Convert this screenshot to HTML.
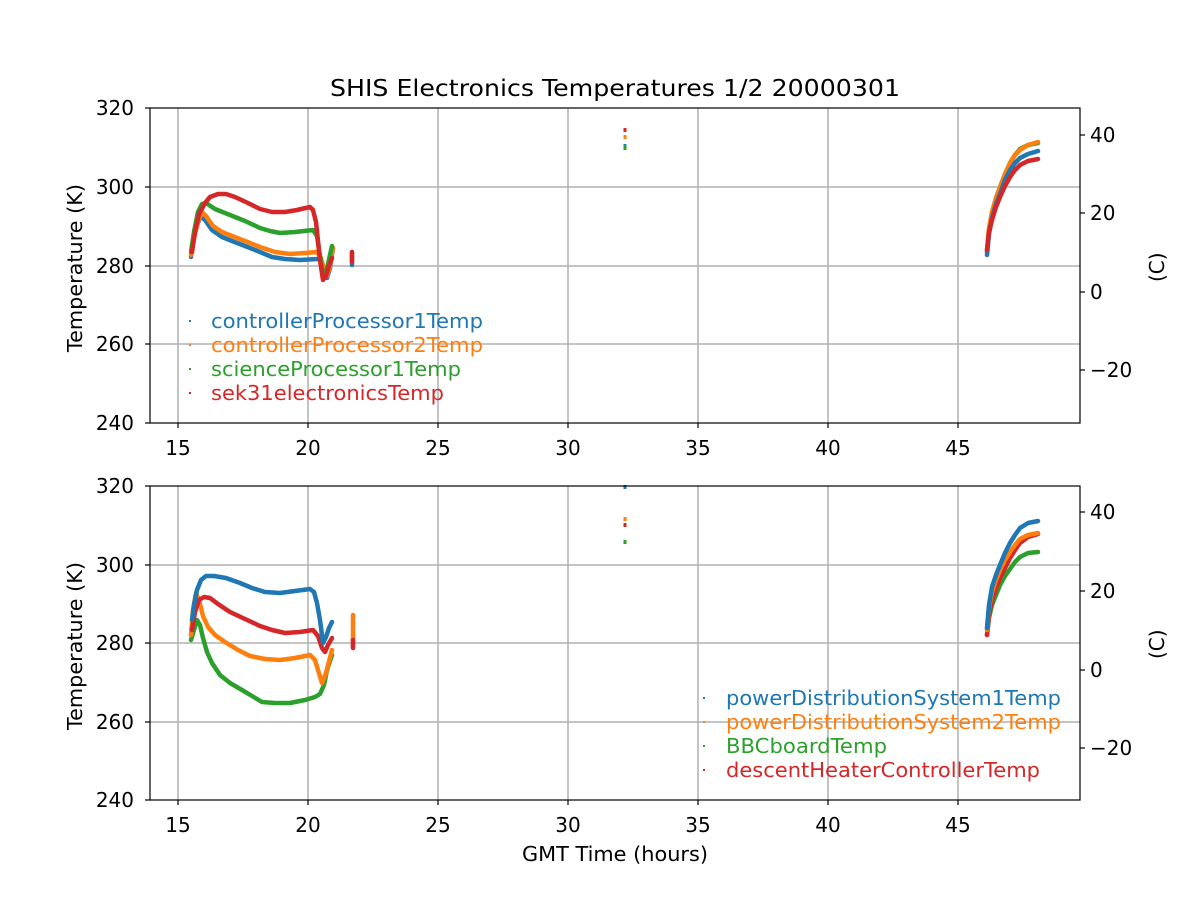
<!DOCTYPE html>
<html><head><meta charset="utf-8"><style>body{margin:0;background:#fff}svg{display:block;font-family:"DejaVu Sans","Liberation Sans",sans-serif}</style></head><body>
<svg width="1200" height="900" viewBox="0 0 1200 900">
<g stroke="#b0b0b0" stroke-width="1.5">
<line x1="178" y1="108" x2="178" y2="423"/><line x1="308" y1="108" x2="308" y2="423"/><line x1="438" y1="108" x2="438" y2="423"/><line x1="568" y1="108" x2="568" y2="423"/><line x1="698" y1="108" x2="698" y2="423"/><line x1="828" y1="108" x2="828" y2="423"/><line x1="958" y1="108" x2="958" y2="423"/>
<line x1="150" y1="187" x2="1080" y2="187"/><line x1="150" y1="266" x2="1080" y2="266"/><line x1="150" y1="344" x2="1080" y2="344"/>
<line x1="178" y1="486" x2="178" y2="800"/><line x1="308" y1="486" x2="308" y2="800"/><line x1="438" y1="486" x2="438" y2="800"/><line x1="568" y1="486" x2="568" y2="800"/><line x1="698" y1="486" x2="698" y2="800"/><line x1="828" y1="486" x2="828" y2="800"/><line x1="958" y1="486" x2="958" y2="800"/>
<line x1="150" y1="565" x2="1080" y2="565"/><line x1="150" y1="643" x2="1080" y2="643"/><line x1="150" y1="722" x2="1080" y2="722"/>
</g>
<g fill="none" stroke-width="4.5" stroke-linejoin="round" stroke-linecap="round">
<!-- top -->
<polyline stroke="#1f77b4" points="191,257 193,240 197,225 201,216 205,220 212,230 222,237 232,241 245,246 260,252 272,257 285,259 300,260 318,259 322,262 325,276 327,278 330,268 333,248"/>
<polyline stroke="#ff7f0e" points="191,255 194,238 198,222 202,212 206,216 213,226 222,232 232,236 245,241 260,247 275,252 290,254 305,253 317,252 321,258 325,274 327,276 330,266 333,248"/>
<polyline stroke="#2ca02c" points="191,252 194,232 198,212 202,204 206,203 215,209 230,215 245,221 260,228 270,231 280,233 295,232 313,230 317,236 322,270 325,276 328,264 332,246"/>
<polyline stroke="#d62728" points="192,252 195,232 199,214 205,203 210,197 218,194 226,194 235,197 248,203 260,209 272,212 285,212 297,210 310,207 313,210 316,222 320,260 323,280 326,276 329,266 332,258"/>
<line stroke="#1f77b4" x1="352" y1="252" x2="352" y2="265"/><line stroke="#d62728" x1="352" y1="252" x2="352" y2="262"/>
<polyline stroke="#2ca02c" points="987,252 989,230 992,213 996,198 1000,187 1005,174 1010,163 1015,155 1020,149 1028,145 1038,143"/>
<polyline stroke="#ff7f0e" points="987,250 989,228 992,212 996,198 1000,187 1005,174 1010,163 1015,155 1020,150 1028,145 1038,142"/>
<polyline stroke="#1f77b4" points="987,255 989,234 992,218 996,204 1000,194 1005,180 1010,170 1015,163 1020,158 1028,154 1038,151"/>
<polyline stroke="#d62728" points="987,250 989,232 992,220 996,207 1000,197 1005,186 1010,177 1015,170 1020,165 1028,161 1038,159"/>
<!-- bottom -->
<polyline stroke="#2ca02c" points="191,640 194,630 197,620 200,625 203,638 207,652 212,663 220,675 230,683 242,690 252,696 262,702 275,703 290,703 305,700 315,697 320,694 324,685 327,670 332,655"/>
<polyline stroke="#ff7f0e" points="191,635 193,610 196,593 199,600 203,616 208,627 215,635 225,642 238,650 250,656 265,659 280,660 295,658 310,655 315,660 318,670 322,683 326,673 332,650"/>
<polyline stroke="#d62728" points="192,630 195,612 199,600 204,597 210,598 218,604 230,612 245,619 260,626 272,630 285,633 300,632 313,630 318,636 322,648 325,652 328,645 332,638"/>
<polyline stroke="#1f77b4" points="192,620 194,605 197,590 201,580 206,576 214,576 226,578 240,583 252,588 265,592 280,593 295,591 310,589 314,592 317,603 320,620 323,643 326,637 329,628 332,622"/>
<line stroke="#ff7f0e" x1="353" y1="615" x2="353" y2="645"/><line stroke="#d62728" x1="353" y1="640" x2="353" y2="648"/>
<polyline stroke="#2ca02c" points="987,635 989,618 992,605 996,595 1000,585 1005,576 1010,569 1015,562 1020,557 1028,553 1038,552"/>
<polyline stroke="#d62728" points="987,635 989,615 992,600 996,588 1000,578 1005,568 1010,558 1015,550 1020,543 1028,537 1038,534"/>
<polyline stroke="#ff7f0e" points="987,630 989,608 992,592 996,580 1000,570 1005,560 1010,552 1015,545 1020,539 1028,535 1038,533"/>
<polyline stroke="#1f77b4" points="987,628 989,605 992,587 996,575 1000,565 1005,553 1010,543 1015,535 1020,528 1028,523 1038,521"/>
</g>
<g stroke-width="3">
<line stroke="#d62728" x1="625" y1="128" x2="625" y2="132"/><line stroke="#ff7f0e" x1="625" y1="135" x2="625" y2="139"/><line stroke="#1f77b4" x1="625" y1="144" x2="625" y2="148"/><line stroke="#2ca02c" x1="625" y1="145" x2="625" y2="150"/>
<line stroke="#1f77b4" x1="625" y1="485" x2="625" y2="489"/><line stroke="#ff7f0e" x1="625" y1="517" x2="625" y2="521"/><line stroke="#d62728" x1="625" y1="523" x2="625" y2="527"/><line stroke="#2ca02c" x1="625" y1="540" x2="625" y2="544"/>
</g>
<g fill="none" stroke="#000" stroke-width="1.2">
<rect x="150" y="108" width="930" height="315"/><rect x="150" y="486" width="930" height="314"/>
</g>
<g stroke="#000" stroke-width="1.2">
<line x1="178" y1="423" x2="178" y2="428"/><line x1="308" y1="423" x2="308" y2="428"/><line x1="438" y1="423" x2="438" y2="428"/><line x1="568" y1="423" x2="568" y2="428"/><line x1="698" y1="423" x2="698" y2="428"/><line x1="828" y1="423" x2="828" y2="428"/><line x1="958" y1="423" x2="958" y2="428"/>
<line x1="178" y1="800" x2="178" y2="805"/><line x1="308" y1="800" x2="308" y2="805"/><line x1="438" y1="800" x2="438" y2="805"/><line x1="568" y1="800" x2="568" y2="805"/><line x1="698" y1="800" x2="698" y2="805"/><line x1="828" y1="800" x2="828" y2="805"/><line x1="958" y1="800" x2="958" y2="805"/>
<line x1="145" y1="108" x2="150" y2="108"/><line x1="145" y1="187" x2="150" y2="187"/><line x1="145" y1="266" x2="150" y2="266"/><line x1="145" y1="344" x2="150" y2="344"/><line x1="145" y1="423" x2="150" y2="423"/>
<line x1="145" y1="486" x2="150" y2="486"/><line x1="145" y1="565" x2="150" y2="565"/><line x1="145" y1="643" x2="150" y2="643"/><line x1="145" y1="722" x2="150" y2="722"/><line x1="145" y1="800" x2="150" y2="800"/>
<line x1="1080" y1="135" x2="1085" y2="135"/><line x1="1080" y1="213" x2="1085" y2="213"/><line x1="1080" y1="292" x2="1085" y2="292"/><line x1="1080" y1="370" x2="1085" y2="370"/>
<line x1="1080" y1="512" x2="1085" y2="512"/><line x1="1080" y1="591" x2="1085" y2="591"/><line x1="1080" y1="670" x2="1085" y2="670"/><line x1="1080" y1="748" x2="1085" y2="748"/>
</g>
<g font-size="20" fill="#000">
<g text-anchor="middle">
<text x="178" y="455">15</text><text x="308" y="455">20</text><text x="438" y="455">25</text><text x="568" y="455">30</text><text x="698" y="455">35</text><text x="828" y="455">40</text><text x="958" y="455">45</text>
<text x="178" y="832">15</text><text x="308" y="832">20</text><text x="438" y="832">25</text><text x="568" y="832">30</text><text x="698" y="832">35</text><text x="828" y="832">40</text><text x="958" y="832">45</text>
</g>
<text x="522" y="861" textLength="186" lengthAdjust="spacingAndGlyphs">GMT Time (hours)</text>
<text x="330" y="96" font-size="23" textLength="570" lengthAdjust="spacingAndGlyphs">SHIS Electronics Temperatures 1/2 20000301</text>
<g text-anchor="end">
<text x="134" y="115">320</text><text x="134" y="194">300</text><text x="134" y="273">280</text><text x="134" y="351">260</text><text x="134" y="430">240</text>
<text x="134" y="493">320</text><text x="134" y="572">300</text><text x="134" y="650">280</text><text x="134" y="729">260</text><text x="134" y="807">240</text>
</g>
<text x="1090" y="142">40</text><text x="1090" y="220">20</text><text x="1090" y="299">0</text><text x="1090" y="377">−20</text>
<text x="1090" y="519">40</text><text x="1090" y="598">20</text><text x="1090" y="677">0</text><text x="1090" y="755">−20</text>
<text transform="translate(82,352) rotate(-90)" textLength="168" lengthAdjust="spacingAndGlyphs">Temperature (K)</text>
<text transform="translate(82,730) rotate(-90)" textLength="168" lengthAdjust="spacingAndGlyphs">Temperature (K)</text>
<text transform="translate(1164,282) rotate(-90)">(C)</text>
<text transform="translate(1164,659) rotate(-90)">(C)</text>
<text x="211" y="328" fill="#1f77b4" textLength="272" lengthAdjust="spacingAndGlyphs">controllerProcessor1Temp</text>
<text x="211" y="352" fill="#ff7f0e" textLength="272" lengthAdjust="spacingAndGlyphs">controllerProcessor2Temp</text>
<text x="211" y="376" fill="#2ca02c" textLength="250" lengthAdjust="spacingAndGlyphs">scienceProcessor1Temp</text>
<text x="211" y="400" fill="#d62728" textLength="233" lengthAdjust="spacingAndGlyphs">sek31electronicsTemp</text>
<text x="726" y="705" fill="#1f77b4" textLength="335" lengthAdjust="spacingAndGlyphs">powerDistributionSystem1Temp</text>
<text x="726" y="729" fill="#ff7f0e" textLength="335" lengthAdjust="spacingAndGlyphs">powerDistributionSystem2Temp</text>
<text x="726" y="753" fill="#2ca02c" textLength="161" lengthAdjust="spacingAndGlyphs">BBCboardTemp</text>
<text x="726" y="777" fill="#d62728" textLength="314" lengthAdjust="spacingAndGlyphs">descentHeaterControllerTemp</text>
</g>
<g>
<rect x="189" y="320" width="2" height="2" fill="#1f77b4"/><rect x="189" y="344" width="2" height="2" fill="#ff7f0e"/><rect x="189" y="368" width="2" height="2" fill="#2ca02c"/><rect x="189" y="392" width="2" height="2" fill="#d62728"/>
<rect x="703" y="697" width="2" height="2" fill="#1f77b4"/><rect x="703" y="721" width="2" height="2" fill="#ff7f0e"/><rect x="703" y="745" width="2" height="2" fill="#2ca02c"/><rect x="703" y="769" width="2" height="2" fill="#d62728"/>
</g>
</svg>
</body></html>
